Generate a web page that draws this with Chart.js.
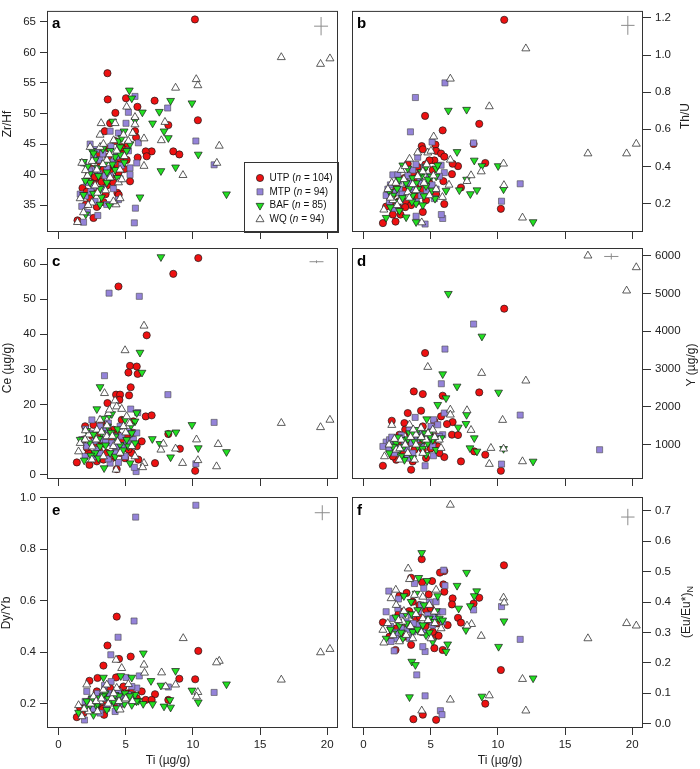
<!DOCTYPE html>
<html><head><meta charset="utf-8">
<script src="https://cdn.jsdelivr.net/npm/chart.js@4.4.1/dist/chart.umd.min.js"></script>
<style>
html,body{margin:0;padding:0;background:#fff;}
#wrap{position:relative;width:700px;height:769px;overflow:hidden;}
canvas{position:absolute;left:0;top:0;}
</style></head><body><div id="wrap">
<canvas id="pa" width="700" height="769"></canvas>
<canvas id="pb" width="700" height="769"></canvas>
<canvas id="pc" width="700" height="769"></canvas>
<canvas id="pd" width="700" height="769"></canvas>
<canvas id="pe" width="700" height="769"></canvas>
<canvas id="pf" width="700" height="769"></canvas>
</div>
<script>
// ---------- series ----------
const seriesNames = ['UTP','MTP','BAF','WQ'];
const seriesCounts = [104,94,85,94];

// ---------- tick labels ----------
const tiTicks = [0,5,10,15,20];
const zrhfTicks = [35,40,45,50,55,60,65];
const thuTicks = [0.2,0.4,0.6,0.8,1.0,1.2];
const ceTicks = [0,10,20,30,40,50,60];
const yTicksD = [1000,2000,3000,4000,5000,6000];
const dyybTicks = [0.2,0.4,0.6,0.8,1.0];
const euTicks = [0.0,0.1,0.2,0.3,0.4,0.5,0.6,0.7];

// ---------- representative uncertainty crosses [Ti, y, ±Ti, ±y] ----------
const aCross = [19.54, 64.3, 0.52, 1.5];
const bCross = [19.67, 1.16, 0.5, 0.051];
const cCross = [19.2, 60.65, 0.52, 0.4];
const dCross = [18.44, 5980, 0.53, 80];
const eCross = [19.63, 0.941, 0.56, 0.029];
const fCross = [19.67, 0.68, 0.5, 0.027];

// ---------- panel a: Zr/Hf vs Ti ----------
const aUTP = [[10.15,65.4],[3.64,56.6],[3.66,52.3],[7.15,52.1],[5.02,52.5],[4.23,50.1],[10.37,48.9],[8.17,48.1],[5.87,51.1],[8.54,43.8],[8.99,43.3],[6.93,43.8],[6.49,43.8],[6.56,43.0],[5.89,42.8],[5.32,38.9],[4.38,37.0],[3.44,47.1],[3.84,48.4],[5.69,47.1],[5.77,46.1],[1.41,32.5],[2.6,32.9],[1.78,37.8],[2.03,35.1],[2.85,34.7],[3.34,35.5],[4.46,40.3],[4.58,42.4],[4.83,43.9],[2.85,42.4],[2.23,39.8],[3.09,39.3],[3.84,40.8],[4.21,45.5],[4.7,44.5],[2.6,38.7],[3.59,38.2],[5.07,42.4],[2.35,36.1],[4.08,38.7],[3.09,41.3],[1.86,36.6],[5.15,45.0],[4.48,36.7],[3.69,42.9],[3.34,40.8],[2.9,37.5],[3.2,38.8],[3.5,36.8],[3.9,39.6],[4.1,41.4],[2.4,41.0],[2.7,39.6],[3.0,43.5],[4.4,41.6],[3.7,44.3],[2.1,37.2],[4.9,40.9]];
const aMTP = [[5.64,32.1],[5.72,34.5],[11.58,41.6],[10.22,45.5],[8.12,50.9],[5.69,52.8],[5.2,50.2],[5.02,48.4],[2.35,45.0],[3.84,47.1],[1.86,32.2],[1.61,36.8],[2.15,33.8],[2.92,33.3],[2.72,35.6],[2.1,38.7],[2.48,40.8],[3.09,42.4],[3.47,39.8],[4.08,37.7],[4.46,35.9],[4.58,39.3],[4.08,42.1],[5.32,41.1],[5.32,40.0],[5.2,43.9],[4.46,46.8],[1.86,41.9],[2.3,40.6],[3.34,37.7],[1.73,34.8],[3.59,35.1],[2.6,38.0],[3.84,39.8],[5.82,41.9],[5.94,45.2],[2.6,42.9],[3.0,40.2],[3.3,43.4],[3.6,41.0],[3.9,44.6],[2.0,36.5],[2.4,37.2],[4.3,43.0],[4.7,41.5],[2.8,44.1]];
const aBAF = [[12.5,36.8],[9.93,51.7],[8.34,52.1],[10.4,43.3],[8.71,41.2],[7.62,40.6],[8.17,46.0],[7.85,47.1],[7.5,50.3],[7.0,48.4],[6.06,36.3],[6.24,50.2],[5.27,53.8],[5.45,52.5],[5.69,48.9],[4.03,48.7],[4.88,47.1],[4.48,45.5],[3.79,35.0],[1.86,36.7],[1.86,42.1],[2.15,41.3],[2.72,42.4],[2.97,39.8],[3.09,37.7],[2.6,36.9],[2.35,38.7],[3.47,41.9],[3.84,43.9],[4.21,42.9],[4.21,40.8],[4.58,44.5],[5.07,43.9],[3.09,35.1],[2.03,33.5],[3.59,38.7],[4.7,46.0],[5.32,45.0],[2.48,43.9],[2.3,40.1],[2.9,41.1],[3.3,44.2],[3.6,40.4],[4.0,41.7],[4.4,39.5],[4.9,42.0],[2.0,39.0],[2.6,43.5],[3.2,36.3],[4.6,43.3]];
const aWQ = [[16.58,59.2],[19.5,58.1],[20.2,59.0],[8.71,54.2],[10.25,55.6],[10.37,54.6],[7.92,48.6],[7.65,45.6],[11.96,44.7],[11.78,41.9],[9.26,39.9],[6.36,41.4],[6.36,45.9],[4.28,35.1],[3.17,48.4],[5.07,51.1],[5.69,49.4],[1.41,32.2],[3.09,46.5],[4.21,48.4],[2.35,44.5],[1.73,41.9],[1.61,36.1],[2.15,39.8],[2.85,40.8],[3.59,42.4],[3.84,39.5],[4.58,40.8],[4.46,38.7],[4.08,35.6],[5.2,45.5],[5.52,46.8],[3.09,44.5],[1.86,33.8],[2.48,35.4],[3.34,45.0],[4.83,46.5],[2.72,38.2],[4.33,43.9],[4.58,36.1],[5.69,48.2],[2.0,40.7],[2.5,42.2],[2.9,37.0],[3.3,41.7],[3.8,43.3],[4.1,45.6],[4.9,43.0],[3.5,37.4],[2.2,35.0],[4.7,39.2]];

// ---------- panel b: Th/U vs Ti ----------
const bUTP = [[10.47,1.19],[4.58,0.672],[8.61,0.629],[5.89,0.594],[8.19,0.521],[9.06,0.418],[7.03,0.401],[6.58,0.358],[7.25,0.286],[5.94,0.32],[6.01,0.197],[10.22,0.171],[4.41,0.154],[1.44,0.094],[2.38,0.102],[4.33,0.509],[4.41,0.492],[5.35,0.517],[5.4,0.483],[5.77,0.469],[6.01,0.452],[5.27,0.432],[6.63,0.414],[4.9,0.432],[4.03,0.397],[3.66,0.363],[3.04,0.337],[2.43,0.286],[1.93,0.243],[1.68,0.183],[2.18,0.14],[2.67,0.174],[3.17,0.209],[3.66,0.243],[4.41,0.277],[4.9,0.311],[5.15,0.38],[3.29,0.414],[3.91,0.286],[4.65,0.217],[5.4,0.251],[2.75,0.14],[3.54,0.191],[2.2,0.25],[2.6,0.21],[3.0,0.27],[3.4,0.3],[3.8,0.33],[4.2,0.36],[4.6,0.41],[3.1,0.18],[2.0,0.2],[4.0,0.24]];
const bMTP = [[6.06,0.85],[3.86,0.771],[3.49,0.586],[5.1,0.531],[8.19,0.526],[11.66,0.306],[10.27,0.212],[5.89,0.119],[5.79,0.14],[4.58,0.089],[3.91,0.131],[6.01,0.366],[2.18,0.354],[2.55,0.354],[1.68,0.243],[1.93,0.209],[2.67,0.277],[3.17,0.311],[3.66,0.38],[4.03,0.449],[4.53,0.397],[4.9,0.346],[5.27,0.226],[5.4,0.277],[5.77,0.406],[3.54,0.277],[2.8,0.226],[2.3,0.174],[3.91,0.209],[4.65,0.303],[5.64,0.346],[1.81,0.277],[3.42,0.311],[4.28,0.243],[2.0,0.3],[2.4,0.26],[2.9,0.25],[3.3,0.35],[3.7,0.29],[4.2,0.32],[4.7,0.27],[5.1,0.3],[2.6,0.32],[3.9,0.41]];
const bBAF = [[6.31,0.701],[7.67,0.706],[6.96,0.478],[8.24,0.432],[8.81,0.402],[10.02,0.402],[10.42,0.277],[12.62,0.1],[7.13,0.272],[7.95,0.251],[8.44,0.272],[7.67,0.329],[5.32,0.226],[3.91,0.1],[3.17,0.126],[1.68,0.123],[1.93,0.263],[2.43,0.209],[2.92,0.406],[3.29,0.389],[2.67,0.329],[3.17,0.311],[3.66,0.337],[4.03,0.277],[4.28,0.346],[4.65,0.294],[5.02,0.346],[5.4,0.389],[5.52,0.406],[4.65,0.397],[3.91,0.2],[2.67,0.161],[3.66,0.243],[5.4,0.346],[2.18,0.243],[4.41,0.191],[6.14,0.269],[2.0,0.18],[2.5,0.28],[2.9,0.23],[3.4,0.28],[3.9,0.31],[4.3,0.37],[4.8,0.33],[5.1,0.27],[3.6,0.21],[4.5,0.24]];
const bWQ = [[12.08,1.035],[6.46,0.872],[9.36,0.723],[16.7,0.469],[19.58,0.469],[20.3,0.521],[10.42,0.414],[10.45,0.298],[11.83,0.123],[8.76,0.372],[8.0,0.351],[7.7,0.32],[6.46,0.435],[6.36,0.30],[5.87,0.234],[5.22,0.56],[4.78,0.474],[4.33,0.097],[1.51,0.166],[2.1,0.311],[2.8,0.38],[3.42,0.44],[4.03,0.474],[3.29,0.26],[2.67,0.209],[3.66,0.303],[4.9,0.243],[4.41,0.372],[2.18,0.217],[5.02,0.483],[5.4,0.277],[4.03,0.346],[1.81,0.277],[2.0,0.23],[2.4,0.31],[3.0,0.33],[3.4,0.23],[3.9,0.27],[4.5,0.31],[4.7,0.41],[5.2,0.35],[3.1,0.4],[2.5,0.19]];

// ---------- panel c: Ce vs Ti ----------
const cUTP = [[10.4,61.7],[8.54,57.2],[4.46,53.6],[6.56,39.7],[5.32,31.0],[5.82,30.8],[5.2,29.1],[5.89,28.7],[5.37,24.9],[4.28,22.8],[4.58,22.8],[5.25,22.6],[4.53,21.3],[3.64,20.4],[6.49,16.6],[6.93,16.9],[5.57,15.2],[6.19,9.5],[8.17,11.6],[9.03,7.4],[7.18,3.3],[10.17,1.1],[4.33,1.6],[1.36,3.5],[2.3,2.8],[1.98,13.8],[2.6,14.2],[3.09,11.9],[3.84,10.0],[4.21,8.1],[4.58,6.2],[4.95,4.7],[5.45,6.2],[5.82,8.1],[5.07,10.9],[3.59,6.2],[2.85,9.0],[2.23,6.2],[3.34,4.3],[4.08,12.8],[4.7,15.6],[5.57,11.9],[5.94,4.3],[1.86,10.0],[2.85,3.8],[3.96,4.7],[2.5,11.0],[3.0,7.0],[3.4,8.8],[3.7,12.5],[4.1,5.5],[4.4,11.4],[4.8,9.8],[5.2,7.2],[3.2,14.6],[2.1,7.7]];
const cMTP = [[3.76,51.7],[6.01,50.8],[3.42,28.2],[8.14,22.8],[11.58,14.9],[10.22,3.1],[5.77,0.9],[5.64,2.1],[3.84,3.3],[4.46,3.5],[5.89,17.7],[5.37,18.7],[5.82,11.9],[1.73,10.0],[2.1,8.1],[2.48,15.6],[3.09,13.8],[3.54,12.8],[3.96,9.0],[4.33,10.9],[4.83,8.1],[5.2,12.3],[5.57,10.0],[2.85,7.1],[3.34,10.0],[4.21,6.2],[1.98,5.2],[2.6,5.2],[4.58,13.8],[3.71,14.7],[4.95,5.2],[2.3,11.8],[2.7,9.6],[3.1,6.0],[3.5,9.2],[3.9,11.6],[4.3,8.0],[4.7,11.0],[5.1,9.0],[2.0,13.0],[3.7,4.5]];
const cBAF = [[7.62,62.0],[6.06,34.8],[6.21,29.1],[3.09,25.0],[2.85,18.7],[3.76,16.9],[3.96,17.3],[9.93,14.2],[8.74,12.1],[8.2,11.8],[6.98,10.2],[7.55,8.8],[10.4,7.6],[12.5,6.5],[8.34,5.0],[5.32,3.3],[3.39,1.9],[1.91,4.1],[4.95,15.7],[5.82,17.6],[1.61,10.0],[2.35,9.0],[3.09,8.1],[3.84,6.2],[4.21,10.9],[4.58,8.5],[5.45,11.9],[5.07,10.0],[3.22,11.9],[2.72,6.2],[4.21,5.2],[5.2,8.1],[5.69,9.0],[3.64,13.8],[2.97,4.7],[5.69,15.2],[2.1,12.5],[2.6,11.5],[3.0,10.2],[3.5,8.4],[3.9,12.0],[4.4,13.0],[4.8,7.0],[5.4,14.0],[2.4,5.5],[3.3,16.0]];
const cWQ = [[16.58,14.7],[19.5,13.5],[20.2,15.6],[6.36,42.4],[4.95,35.4],[11.88,8.7],[11.76,2.35],[10.27,10.0],[10.37,4.1],[9.23,3.3],[8.71,7.4],[7.8,8.8],[7.62,7.1],[6.36,3.3],[6.26,2.1],[3.42,23.2],[4.21,21.1],[4.33,19.4],[4.7,18.7],[4.28,1.4],[1.49,6.6],[1.61,9.0],[2.23,11.4],[2.85,12.8],[3.09,15.6],[3.59,10.9],[4.08,8.1],[4.83,13.8],[5.07,16.6],[4.58,6.2],[5.45,8.1],[5.69,5.2],[3.34,5.2],[2.48,4.3],[1.98,10.0],[3.71,17.5],[2.0,12.6],[2.5,8.0],[2.8,10.0],[3.2,12.2],[3.6,14.0],[4.0,11.0],[4.4,9.4],[5.0,12.0],[5.3,14.6],[3.8,18.5]];

// ---------- panel d: Y vs Ti ----------
const dUTP = [[10.47,4598],[4.58,3425],[3.74,2410],[4.41,2340],[5.89,2296],[8.61,2384],[4.28,1899],[3.29,1837],[3.04,1572],[2.1,1634],[6.63,1599],[6.21,1546],[6.58,1264],[7.03,1255],[5.4,1220],[6.01,673],[7.25,558],[9.06,735],[8.24,823],[10.22,311],[3.54,338],[1.44,443],[2.43,602],[2.67,1264],[3.17,999],[3.79,867],[4.03,1131],[4.41,1484],[4.9,1308],[5.27,1616],[5.52,955],[5.64,779],[4.41,867],[3.66,558],[2.92,779],[4.65,646],[5.15,1043],[5.77,1749],[3.42,1308],[2.18,690],[2.3,900],[2.8,1150],[3.1,1400],[3.5,1050],[3.9,1250],[4.3,1050],[4.7,1200],[5.0,900],[3.3,700],[2.6,1000]];
const dMTP = [[8.19,4192],[6.06,3530],[5.79,2613],[11.66,1784],[17.57,867],[10.27,488],[4.58,443],[3.84,1722],[6.01,1837],[5.22,1660],[5.89,1264],[5.2,708],[1.68,1070],[1.93,1131],[2.3,779],[2.67,911],[3.04,1087],[3.54,1220],[4.03,1352],[4.78,1264],[5.02,1484],[5.52,1528],[5.64,1220],[4.28,955],[3.66,779],[2.18,955],[5.15,955],[3.29,646],[1.44,955],[1.9,900],[2.4,1100],[2.8,1250],[3.2,900],[3.6,1050],[4.0,1150],[4.4,1300],[4.9,1100],[3.4,1400],[2.1,1200]];
const dBAF = [[6.31,4995],[8.81,3866],[5.89,2869],[6.96,2543],[10.05,2384],[5.52,2058],[6.14,2234],[4.7,1678],[7.67,1793],[7.62,1555],[7.05,1458],[8.24,1176],[7.92,911],[8.44,823],[10.42,893],[12.62,558],[1.93,779],[2.43,1043],[2.67,867],[3.04,1131],[3.42,1308],[3.79,1087],[4.03,955],[4.41,1131],[4.78,1043],[5.15,1131],[5.4,867],[5.77,1176],[4.65,735],[3.66,646],[3.04,602],[4.03,1396],[5.02,1352],[2.2,950],[2.6,1200],[3.0,950],[3.3,1150],[3.7,1300],[4.2,1200],[4.6,1300],[5.0,1200],[2.8,700],[4.4,900]];
const dWQ = [[16.7,6000],[19.58,5074],[20.3,5691],[12.08,2693],[8.79,2895],[4.78,3054],[7.7,1908],[6.46,1925],[6.46,1793],[10.35,1652],[8.0,1387],[9.48,911],[9.36,488],[11.83,558],[10.42,893],[2.1,1519],[1.56,690],[2.43,867],[2.8,1131],[3.42,1528],[3.91,1264],[4.28,1440],[4.65,1131],[3.29,779],[5.15,1396],[5.64,1131],[5.77,911],[4.41,779],[2.67,602],[3.79,602],[1.9,1000],[2.3,1150],[2.7,900],[3.1,1000],[3.5,1200],[3.9,1000],[4.3,1200],[4.8,1300],[5.3,1200],[3.7,1400]];

// ---------- panel e: Dy/Yb vs Ti ----------
const eUTP = [[4.33,0.538],[3.64,0.426],[10.4,0.405],[4.5,0.374],[5.37,0.383],[3.34,0.348],[2.3,0.289],[2.9,0.3],[4.28,0.302],[8.99,0.297],[10.17,0.295],[6.19,0.248],[7.18,0.237],[6.49,0.215],[6.93,0.215],[8.17,0.215],[1.36,0.148],[3.39,0.157],[5.45,0.248],[5.07,0.222],[4.58,0.254],[4.08,0.235],[3.59,0.209],[3.09,0.196],[2.48,0.177],[1.86,0.164],[2.1,0.196],[2.72,0.222],[3.84,0.261],[5.82,0.222],[4.33,0.196],[4.83,0.267],[2.85,0.248],[1.61,0.183],[2.3,0.21],[2.7,0.19],[3.1,0.23],[3.5,0.24],[3.9,0.22],[4.3,0.24],[4.7,0.2],[5.1,0.24],[5.6,0.21],[3.3,0.18]];
const eMTP = [[10.22,0.97],[5.74,0.924],[5.62,0.521],[4.43,0.458],[3.89,0.39],[11.58,0.244],[8.17,0.265],[6.01,0.308],[5.02,0.302],[3.42,0.271],[3.91,0.286],[5.82,0.261],[1.93,0.137],[2.1,0.248],[2.48,0.222],[2.85,0.203],[3.22,0.235],[3.59,0.183],[4.08,0.209],[4.46,0.248],[4.83,0.222],[5.32,0.235],[3.09,0.164],[4.21,0.17],[5.45,0.267],[1.98,0.209],[3.71,0.241],[2.2,0.19],[2.6,0.18],[3.0,0.21],[3.4,0.22],[3.8,0.23],[4.2,0.22],[4.6,0.2],[5.0,0.23],[5.6,0.22],[2.9,0.24]];
const eBAF = [[6.31,0.396],[4.63,0.308],[5.45,0.302],[3.34,0.302],[8.71,0.328],[6.88,0.289],[7.62,0.271],[12.5,0.276],[9.93,0.252],[10.4,0.206],[8.29,0.215],[7.85,0.19],[8.34,0.186],[7.0,0.199],[5.94,0.212],[1.49,0.166],[1.98,0.183],[2.6,0.157],[2.85,0.19],[3.09,0.222],[3.47,0.241],[3.84,0.209],[4.21,0.235],[4.58,0.209],[4.95,0.241],[5.32,0.215],[5.69,0.235],[3.59,0.177],[4.33,0.183],[2.35,0.196],[5.45,0.196],[2.1,0.21],[2.5,0.22],[2.9,0.2],[3.3,0.23],[3.7,0.22],[4.1,0.21],[4.5,0.23],[4.9,0.2],[5.3,0.23],[5.8,0.21],[6.3,0.2]];
const eWQ = [[16.58,0.293],[19.5,0.399],[20.2,0.412],[9.28,0.454],[11.96,0.366],[11.76,0.36],[10.37,0.245],[10.27,0.228],[8.71,0.274],[7.67,0.321],[6.36,0.351],[6.4,0.32],[4.7,0.338],[4.28,0.37],[5.2,0.276],[7.97,0.267],[1.49,0.194],[2.1,0.274],[1.73,0.151],[2.6,0.228],[3.09,0.209],[3.34,0.254],[3.96,0.222],[4.58,0.177],[4.95,0.215],[2.23,0.17],[3.59,0.274],[4.33,0.261],[1.9,0.18],[2.4,0.2],[2.8,0.21],[3.2,0.22],[3.7,0.2],[4.1,0.24],[4.5,0.21],[5.0,0.22],[5.5,0.21],[2.9,0.17]];

// ---------- panel f: (Eu/Eu*)N vs Ti ----------
const fUTP = [[10.45,0.521],[4.33,0.541],[6.01,0.502],[5.69,0.497],[3.54,0.48],[5.1,0.469],[4.36,0.465],[5.94,0.458],[6.01,0.434],[6.63,0.412],[2.67,0.42],[4.85,0.425],[6.58,0.392],[8.61,0.414],[8.19,0.395],[7.03,0.348],[7.25,0.332],[1.44,0.333],[6.26,0.324],[5.4,0.291],[5.59,0.289],[3.54,0.259],[5.27,0.248],[5.89,0.242],[2.38,0.242],[10.22,0.176],[9.06,0.065],[4.41,0.029],[3.71,0.014],[5.4,0.012],[2.92,0.368],[3.29,0.324],[3.91,0.346],[4.28,0.302],[4.65,0.374],[5.02,0.335],[3.66,0.401],[1.93,0.286],[2.43,0.313],[3.04,0.286],[5.15,0.302],[4.16,0.39],[2.2,0.3],[2.6,0.36],[3.0,0.33],[3.4,0.37],[3.8,0.31],[4.2,0.35],[4.6,0.32],[5.0,0.38],[5.5,0.33],[3.2,0.43]];
const fMTP = [[5.97,0.505],[6.06,0.454],[4.48,0.445],[3.79,0.461],[1.88,0.436],[8.19,0.374],[11.66,0.277],[10.27,0.385],[2.28,0.239],[4.58,0.237],[4.41,0.253],[3.96,0.16],[4.58,0.091],[5.72,0.042],[5.84,0.029],[1.68,0.368],[2.18,0.346],[2.55,0.379],[2.8,0.313],[3.17,0.335],[3.54,0.357],[4.03,0.324],[4.28,0.39],[4.78,0.357],[5.15,0.324],[5.52,0.368],[5.89,0.368],[5.89,0.335],[2.43,0.28],[3.42,0.28],[5.4,0.401],[2.05,0.27],[3.66,0.302],[2.0,0.32],[2.4,0.3],[2.9,0.36],[3.3,0.31],[3.7,0.33],[4.1,0.37],[4.5,0.3],[4.9,0.4],[5.3,0.35],[2.6,0.41]];
const fBAF = [[4.33,0.562],[7.67,0.497],[6.96,0.454],[8.42,0.436],[8.24,0.42],[7.95,0.387],[7.08,0.379],[10.45,0.337],[7.62,0.308],[10.05,0.253],[12.62,0.149],[8.81,0.089],[3.42,0.087],[3.59,0.204],[3.86,0.193],[6.26,0.261],[6.14,0.237],[4.11,0.48],[4.73,0.47],[3.91,0.428],[5.52,0.42],[1.68,0.28],[2.18,0.297],[2.67,0.324],[3.12,0.363],[3.54,0.401],[4.03,0.374],[4.41,0.324],[4.9,0.346],[5.27,0.335],[5.64,0.346],[3.66,0.302],[2.92,0.28],[4.65,0.291],[5.15,0.27],[5.89,0.34],[2.0,0.31],[2.4,0.35],[2.8,0.3],[3.2,0.33],[3.6,0.36],[4.0,0.31],[4.5,0.39],[4.9,0.3],[5.4,0.37],[3.0,0.42]];
const fWQ = [[6.46,0.72],[16.7,0.28],[19.58,0.33],[20.3,0.322],[12.08,0.042],[11.83,0.146],[9.36,0.092],[10.42,0.414],[10.47,0.398],[8.76,0.288],[8.04,0.327],[7.7,0.322],[6.46,0.078],[4.33,0.042],[3.32,0.51],[5.4,0.44],[1.51,0.266],[1.44,0.308],[2.05,0.412],[2.43,0.39],[2.92,0.335],[3.42,0.475],[3.79,0.423],[4.41,0.346],[4.9,0.39],[5.27,0.368],[5.77,0.313],[2.67,0.27],[3.66,0.28],[5.02,0.28],[3.17,0.291],[4.41,0.417],[1.8,0.33],[2.2,0.29],[2.6,0.34],[3.0,0.37],[3.5,0.32],[3.9,0.36],[4.3,0.3],[4.8,0.34],[5.3,0.33],[2.4,0.44]];

// ---------- styling ----------
const FONT = '"Liberation Sans", Arial, Helvetica, sans-serif';
const seriesStyle = [
  {style:'circle',   r:3.6, rot:0,   bg:'#EE1111', bc:'#1a1a1a', bw:0.7},
  {style:'rect',     r:4.3, rot:0,   bg:'#9483D9', bc:'#4a4a4a', bw:0.6},
  {style:'triangle', r:4.5, rot:180, bg:'#22E022', bc:'#1a1a1a', bw:0.7},
  {style:'triangle', r:4.6, rot:0,   bg:'#FFFFFF', bc:'#333333', bw:0.8}
];
const drawOrder = [3,2,1,0];
const tiRange = [-0.86, 20.8];
const YW_L = 40, YW_R = 45;

const panels = [
  {id:'pa', letter:'a', data:[aUTP,aMTP,aBAF,aWQ], yRange:[30.6,66.8], yTicks:zrhfTicks, dec:0, side:'left',
   box:[47,1,338,232], xLabels:false, cross:aCross, legend:true, yTitle:'Zr/Hf', tx:8, ty:124},
  {id:'pb', letter:'b', data:[bUTP,bMTP,bBAF,bWQ], yRange:[0.046,1.238], yTicks:thuTicks, dec:1, side:'right',
   box:[352,1,643,232], xLabels:false, cross:bCross, yTitle:'Th/U', tx:686, ty:116},
  {id:'pc', letter:'c', data:[cUTP,cMTP,cBAF,cWQ], yRange:[-1.22,64.56], yTicks:ceTicks, dec:0, side:'left',
   box:[47,248,338,479], xLabels:false, cross:cCross, yTitle:'Ce (\u00B5g/g)', tx:8, ty:368},
  {id:'pd', letter:'d', data:[dUTP,dMTP,dBAF,dWQ], yRange:[93,6204], yTicks:yTicksD, dec:0, side:'right',
   box:[352,248,643,479], xLabels:false, cross:dCross, yTitle:'Y (\u00B5g/g)', tx:692, ty:365},
  {id:'pe', letter:'e', data:[eUTP,eMTP,eBAF,eWQ], yRange:[0.106,1.002], yTicks:dyybTicks, dec:1, side:'left',
   box:[47,497,338,728], xLabels:true, cross:eCross, yTitle:'Dy/Yb', tx:7, ty:613, xTitleX:168},
  {id:'pf', letter:'f', data:[fUTP,fMTP,fBAF,fWQ], yRange:[-0.015,0.746], yTicks:euTicks, dec:1, side:'right',
   box:[352,497,643,728], xLabels:true, cross:fCross, yTitle:'(Eu/Eu*)', ySub:'N', tx:687, ty:612, xTitleX:500}
];

function drawMarker(ctx, i, x, y) {
  const s = seriesStyle[i];
  ctx.fillStyle = s.bg; ctx.strokeStyle = s.bc; ctx.lineWidth = s.bw;
  ctx.beginPath();
  if (s.style === 'circle') {
    ctx.arc(x, y, s.r, 0, Math.PI * 2);
  } else if (s.style === 'rect') {
    const h = s.r * Math.SQRT1_2;
    ctx.rect(x - h, y - h, 2 * h, 2 * h);
  } else {
    let rad = s.rot * Math.PI / 180;
    ctx.moveTo(x + Math.sin(rad) * s.r, y - Math.cos(rad) * s.r);
    for (let k = 0; k < 2; k++) {
      rad += 2 * Math.PI / 3;
      ctx.lineTo(x + Math.sin(rad) * s.r, y - Math.cos(rad) * s.r);
    }
    ctx.closePath();
  }
  ctx.fill(); ctx.stroke();
}

function makeDeco(p) {
  return {
    id: 'deco_' + p.id,
    afterDatasetsDraw(chart) {
      const ctx = chart.ctx, ca = chart.chartArea;
      const xs = chart.scales.x, ys = chart.scales.y;
      ctx.save();
      const [cx, cy, ex, ey] = p.cross;
      const px = xs.getPixelForValue(cx), py = ys.getPixelForValue(cy);
      ctx.strokeStyle = '#8c8c8c'; ctx.lineWidth = 1;
      ctx.beginPath();
      ctx.moveTo(xs.getPixelForValue(cx - ex), py); ctx.lineTo(xs.getPixelForValue(cx + ex), py);
      ctx.moveTo(px, ys.getPixelForValue(cy - ey)); ctx.lineTo(px, ys.getPixelForValue(cy + ey));
      ctx.stroke();
      if (p.legend) {
        const L = ca.right - 94, T = ca.bottom - 70;
        ctx.fillStyle = '#fff';
        ctx.fillRect(L, T, ca.right - L, ca.bottom - T);
        ctx.strokeStyle = '#333'; ctx.lineWidth = 1;
        ctx.strokeRect(L + 0.5, T + 0.5, ca.right - L, ca.bottom - T);
        seriesNames.forEach((nm, i) => {
          const y = T + 16 + i * 13.8;
          drawMarker(ctx, i, L + 16, y);
          let tx = L + 25.5;
          ctx.fillStyle = '#111'; ctx.textBaseline = 'middle'; ctx.textAlign = 'left';
          ctx.font = '10px ' + FONT;
          const s1 = nm + ' (';
          ctx.fillText(s1, tx, y); tx += ctx.measureText(s1).width;
          ctx.font = 'italic 10px ' + FONT;
          ctx.fillText('n', tx, y); tx += ctx.measureText('n').width;
          ctx.font = '10px ' + FONT;
          ctx.fillText(' = ' + seriesCounts[i] + ')', tx, y);
        });
      }
      ctx.strokeStyle = '#333'; ctx.lineWidth = 1;
      ctx.strokeRect(ca.left + 0.5, ca.top + 0.5, ca.right - ca.left - 1, ca.bottom - ca.top - 1);
      ctx.fillStyle = '#000'; ctx.font = 'bold 15px ' + FONT;
      ctx.textAlign = 'left'; ctx.textBaseline = 'alphabetic';
      ctx.fillText(p.letter, ca.left + 5, ca.top + 17.5);
      ctx.save();
      ctx.translate(p.tx, p.ty); ctx.rotate(-Math.PI / 2);
      ctx.fillStyle = '#222'; ctx.textBaseline = 'middle';
      if (p.ySub) {
        ctx.font = '12px ' + FONT;
        const w1 = ctx.measureText(p.yTitle).width;
        ctx.font = '9px ' + FONT;
        const w2 = ctx.measureText(p.ySub).width;
        const x0 = -(w1 + w2) / 2;
        ctx.textAlign = 'left';
        ctx.font = '12px ' + FONT; ctx.fillText(p.yTitle, x0, 0);
        ctx.font = '9px ' + FONT; ctx.fillText(p.ySub, x0 + w1, 3.5);
      } else {
        ctx.textAlign = 'center'; ctx.font = '12px ' + FONT;
        ctx.fillText(p.yTitle, 0, 0);
      }
      ctx.restore();
      if (p.xLabels) {
        ctx.fillStyle = '#222'; ctx.font = '12px ' + FONT;
        ctx.textAlign = 'center'; ctx.textBaseline = 'middle';
        ctx.fillText('Ti (\u00B5g/g)', p.xTitleX, 761);
      }
      ctx.restore();
    }
  };
}

function buildChart(p) {
  const right = p.side === 'right';
  const xh = p.xLabels ? 30 : 10;
  const yw = right ? YW_R : YW_L;
  const padding = {
    top: p.box[1],
    bottom: 769 - p.box[3] - xh,
    left: right ? p.box[0] : p.box[0] - yw,
    right: right ? 700 - p.box[2] - yw : 700 - p.box[2]
  };
  const datasets = p.data.map((d, i) => ({
    label: seriesNames[i],
    data: d,
    pointStyle: seriesStyle[i].style,
    pointRadius: seriesStyle[i].r,
    pointHoverRadius: seriesStyle[i].r,
    pointRotation: seriesStyle[i].rot,
    backgroundColor: seriesStyle[i].bg,
    borderColor: seriesStyle[i].bc,
    borderWidth: seriesStyle[i].bw,
    order: drawOrder[i]
  }));
  const tickFont = {family: FONT, size: 11.5};
  new Chart(document.getElementById(p.id), {
    type: 'scatter',
    data: {datasets},
    plugins: [makeDeco(p)],
    options: {
      responsive: false, animation: false, devicePixelRatio: 1,
      layout: {padding},
      plugins: {legend: {display: false}, tooltip: {enabled: false}},
      scales: {
        x: {
          type: 'linear', position: 'bottom', min: tiRange[0], max: tiRange[1],
          afterBuildTicks: s => { s.ticks = tiTicks.map(v => ({value: v})); },
          afterFit: s => { s.height = xh; },
          ticks: {display: p.xLabels, color: '#222', font: tickFont, padding: 3, autoSkip: false, maxRotation: 0,
                  callback: v => String(v)},
          grid: {drawOnChartArea: false, drawTicks: true, tickLength: 7, color: '#333', lineWidth: 1},
          border: {display: false}
        },
        y: {
          type: 'linear', position: p.side, min: p.yRange[0], max: p.yRange[1],
          afterBuildTicks: s => { s.ticks = p.yTicks.map(v => ({value: v})); },
          afterFit: s => { s.width = yw; },
          ticks: {color: '#222', font: tickFont, padding: 4, autoSkip: false,
                  callback: v => Number(v).toFixed(p.dec)},
          grid: {drawOnChartArea: false, drawTicks: true, tickLength: right ? 8 : 7, color: '#333', lineWidth: 1},
          border: {display: false}
        }
      }
    }
  });
}

panels.forEach(buildChart);
</script>
</body></html>
